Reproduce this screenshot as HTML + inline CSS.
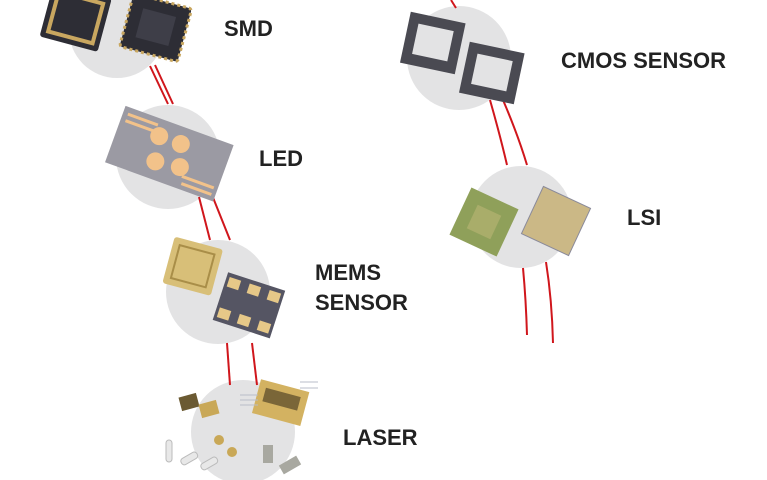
<!DOCTYPE html>
<html><head><style>
html,body{margin:0;padding:0;background:#fff;}
svg{display:block}
text{font-family:"Liberation Sans",sans-serif;font-weight:bold;fill:#222;font-size:22px}
</style></head><body>
<svg width="767" height="480" viewBox="0 0 767 480">
<g fill="#e3e3e4">
<circle cx="117" cy="30" r="48"/>
<circle cx="168" cy="157" r="52"/>
<circle cx="218" cy="292" r="52"/>
<circle cx="243" cy="432" r="52"/>
<circle cx="459" cy="58" r="52"/>
<circle cx="521" cy="217" r="51"/>
</g>
<g stroke="#d0161c" stroke-width="2" fill="none">
<path d="M150 66 L168 104"/><path d="M155 65 L173 104"/>
<path d="M199 197 L210 240"/><path d="M210 190 L230 240"/>
<path d="M227 343 L230 385"/><path d="M252 343 L257 385"/>
<path d="M451 0 L456 8"/>
<path d="M490 100 Q500 135 507 165"/><path d="M503 100 Q518 135 527 165"/>
<path d="M523 268 Q526 300 527 335"/><path d="M546 262 Q552 300 553 343"/>
</g>
<g transform="rotate(15 75 20)"><rect x="45" y="-10" width="60" height="55" rx="3" fill="#2d2d35"/><rect x="52" y="-3" width="46" height="41" fill="none" stroke="#c9a760" stroke-width="4"/></g>
<g transform="rotate(15 155 30)"><rect x="125" y="0" width="60" height="55" rx="3" fill="#2d2d35" stroke="#c9a760" stroke-width="3" stroke-dasharray="3 3"/><rect x="138" y="12" width="34" height="30" fill="#3e3e48"/></g>
<g transform="rotate(20 168 150)"><rect x="113" y="123" width="115" height="60" fill="#9b9aa3"/>
<g fill="#f2c28a"><circle cx="155" cy="140" r="9"/><circle cx="178" cy="140" r="9"/><circle cx="160" cy="165" r="9"/><circle cx="185" cy="162" r="9"/></g>
<g stroke="#f2c28a" stroke-width="3"><path d="M118 130 H150"/><path d="M118 137 H148"/><path d="M190 170 H224"/><path d="M192 177 H224"/></g></g>
<g transform="rotate(15 192 265)"><rect x="168" y="242" width="50" height="48" rx="3" fill="#d8bf78"/><rect x="175" y="249" width="36" height="34" fill="none" stroke="#a98e48" stroke-width="2"/></g>
<g transform="rotate(18 248 305)"><rect x="219" y="280" width="60" height="50" fill="#555563"/>
<g fill="#e6c888"><rect x="222" y="284" width="12" height="10"/><rect x="243" y="284" width="12" height="10"/><rect x="264" y="284" width="12" height="10"/><rect x="222" y="316" width="12" height="10"/><rect x="243" y="316" width="12" height="10"/><rect x="264" y="316" width="12" height="10"/></g></g>
<g transform="rotate(15 280 405)"><rect x="255" y="385" width="50" height="35" fill="#d3b261"/><rect x="262" y="392" width="36" height="14" fill="#7a6638"/></g>
<g stroke="#b8bcc8" stroke-width="1"><path d="M240 395 H258 M240 400 H258 M240 405 H258 M300 382 H318 M300 388 H318"/></g>
<rect x="180" y="395" width="18" height="14" fill="#6b5a32" transform="rotate(-15 189 402)"/>
<rect x="200" y="402" width="18" height="14" fill="#c9a857" transform="rotate(-15 209 409)"/>
<g fill="#c9a857"><circle cx="219" cy="440" r="5"/><circle cx="232" cy="452" r="5"/></g>
<g fill="#e8e8e8" stroke="#bbb"><rect x="166" y="440" width="6" height="22" rx="3"/><rect x="180" y="455" width="18" height="7" rx="3" transform="rotate(-30 189 458)"/><rect x="200" y="460" width="18" height="7" rx="3" transform="rotate(-30 209 463)"/></g>
<rect x="263" y="445" width="10" height="18" fill="#a8a8a0"/><rect x="280" y="460" width="20" height="10" fill="#a8a8a0" transform="rotate(-30 290 465)"/>
<g transform="rotate(12 433 42)"><rect x="405" y="17" width="56" height="52" fill="#4a4a52"/><rect x="415" y="27" width="36" height="31" fill="#e3e3e4"/></g>
<g transform="rotate(12 492 72)"><rect x="464" y="47" width="56" height="52" fill="#4a4a52"/><rect x="474" y="57" width="36" height="31" fill="#e3e3e4"/></g>
<g transform="rotate(25 484 222)"><rect x="458" y="196" width="52" height="52" fill="#8fa05a"/><rect x="471" y="209" width="26" height="26" fill="#a9ad6a"/></g>
<g transform="rotate(25 556 221)"><rect x="530" y="195" width="52" height="52" fill="#cbb886" stroke="#8a8a9a"/></g>
<text x="224" y="36">SMD</text>
<text x="259" y="166">LED</text>
<text x="315" y="280">MEMS</text>
<text x="315" y="310">SENSOR</text>
<text x="343" y="445">LASER</text>
<text x="561" y="68">CMOS SENSOR</text>
<text x="627" y="225">LSI</text>
</svg>
</body></html>
